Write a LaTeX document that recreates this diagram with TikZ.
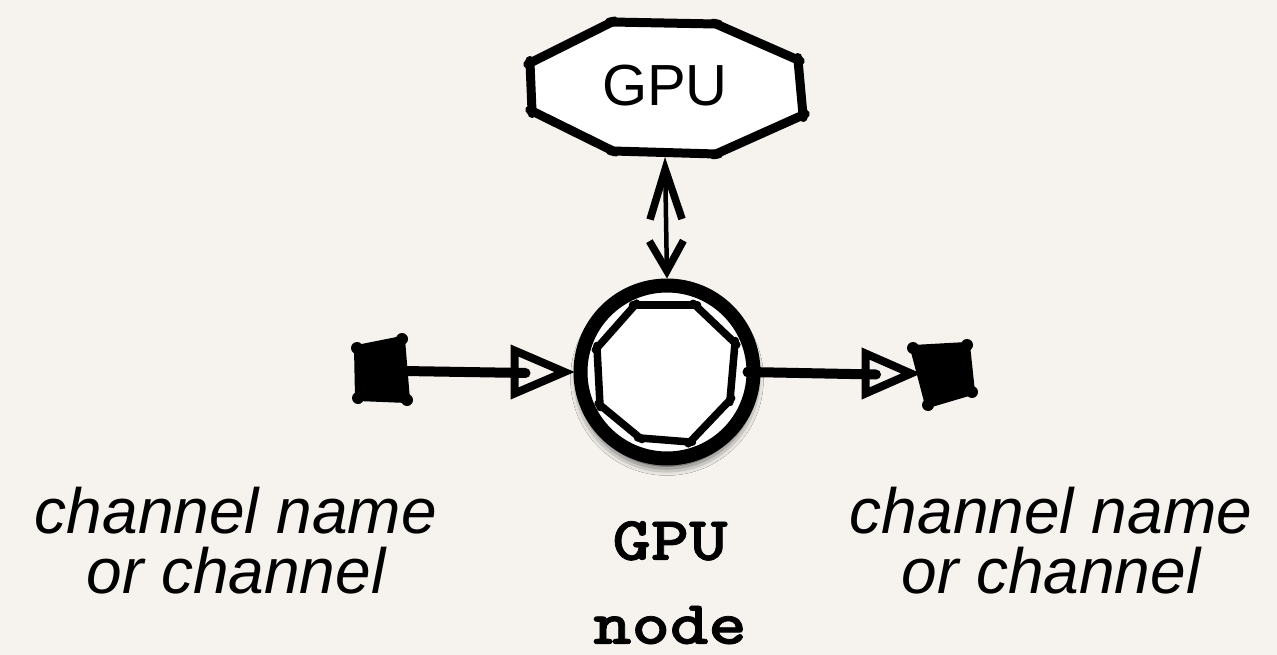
\documentclass[tikz,border=0pt]{standalone}
\usepackage{fontspec}
\setmainfont{Liberation Sans}
\newfontfamily\codefont{lmmonolt10-bold.otf}[FakeStretch=1.18,FakeBold=1.2]
\usetikzlibrary{calc,arrows.meta,shadows.blur}
\definecolor{paper}{HTML}{F6F3EE}

\begin{document}
\begin{tikzpicture}[x=1pt,y=-1pt,
  sketch/.style={line width=9pt, line cap=round, shorten <=-2.5pt, shorten >=-2.5pt},
  innersketch/.style={line width=7.5pt, line cap=round, shorten <=-2.5pt, shorten >=-2.5pt},
  shaft/.style={line width=10pt, line cap=round},
  openhead/.style={line width=8pt, line join=miter, fill=paper},
  port/.style={fill=black, draw=black, line width=6pt, line join=round},
  chanlabel/.style={font=\fontsize{64}{60}\selectfont\itshape, align=center, inner sep=0pt},
  kindlabel/.style={font=\fontsize{62}{84}\selectfont\codefont, align=center, inner sep=0pt}]

% canvas
\fill[paper] (0,0) rectangle (1277,655);
\useasboundingbox (0,0) rectangle (1277,655);

% ---- GPU resource (hand-drawn octagon) ----
\coordinate (g1) at (612,22);
\coordinate (g2) at (716,24);
\coordinate (g3) at (798,60);
\coordinate (g4) at (803,115);
\coordinate (g5) at (716,154);
\coordinate (g6) at (613,151);
\coordinate (g7) at (532,111);
\coordinate (g8) at (530,63);
\fill[white] (g1)--(g2)--(g3)--(g4)--(g5)--(g6)--(g7)--(g8)--cycle;
\foreach \a/\b in {g1/g2,g2/g3,g3/g4,g4/g5,g5/g6,g6/g7,g7/g8,g8/g1}
  \draw[sketch] (\a) -- (\b);
\node[font=\fontsize{58}{58}\selectfont, inner sep=0pt] (gpu) at (665,86) {GPU};
\coordinate (gpuS) at (665,157);

% ---- GPU node (circle with inner octagon) ----
\node[circle, draw=black, fill=white, line width=14pt, minimum size=173pt,
      inner sep=0pt,
      blur shadow={shadow xshift=0pt, shadow yshift=-7pt, shadow blur radius=10pt, shadow opacity=95}]
      (core) at (667,372) {};
\coordinate (c1) at (635,305);
\coordinate (c2) at (695,305);
\coordinate (c3) at (735,343);
\coordinate (c4) at (730,400);
\coordinate (c5) at (690,442);
\coordinate (c6) at (640,438);
\coordinate (c7) at (600,405);
\coordinate (c8) at (597,348);
\foreach \a/\b in {c1/c2,c2/c3,c3/c4,c4/c5,c5/c6,c6/c7,c7/c8,c8/c1}
  \draw[innersketch] (\a) -- (\b);

% link between node and GPU
\draw[line width=4.5pt,
  {Straight Barb[length=30pt,width=34pt,line width=7.5pt]}-{Straight Barb[length=50pt,width=32pt,line width=7.5pt]}]
  (core.north) -- (gpuS);

% ---- input channel ----
\coordinate (l1) at (357,348);
\coordinate (l2) at (402,339);
\coordinate (l3) at (407,400);
\coordinate (l4) at (358,398);
\draw[port] (l1)--(l2)--(l3)--(l4)--cycle;
\foreach \p in {l1,l2,l3,l4} \fill (\p) circle (6pt);
\coordinate (inPort) at (404,371);
\coordinate (inTip) at ($(core.west)+(-9,0)$);
\draw[openhead] (inTip) -- ++(-50,-21.5) -- ++(0,43) -- cycle;
\draw[shaft] (inPort) -- ($(inTip)+(-39,1)$);

% ---- output channel ----
\coordinate (r1) at (913,348);
\coordinate (r2) at (967,345);
\coordinate (r3) at (972,392);
\coordinate (r4) at (928,405);
\draw[port] (r1)--(r2)--(r3)--(r4)--cycle;
\foreach \p in {r1,r2,r3,r4} \fill (\p) circle (6pt);
\coordinate (outPort) at (911,373.5);
\coordinate (outStart) at (748,372);
\draw[openhead] (outPort) -- ++(-45.5,-20) -- ++(0,40) -- cycle;
\draw[shaft] (outStart) -- ($(outPort)+(-35,1)$);
\fill (outStart) circle (5.5pt);

% ---- labels ----
\node[chanlabel, anchor=north] (inLabel) at (236,487) {channel name\\or channel};
\node[chanlabel, anchor=north] (outLabel) at (1051,487) {channel name\\or channel};
\node[kindlabel, anchor=north] (kind) at (670,521) {GPU\\node};

\end{tikzpicture}
\end{document}
